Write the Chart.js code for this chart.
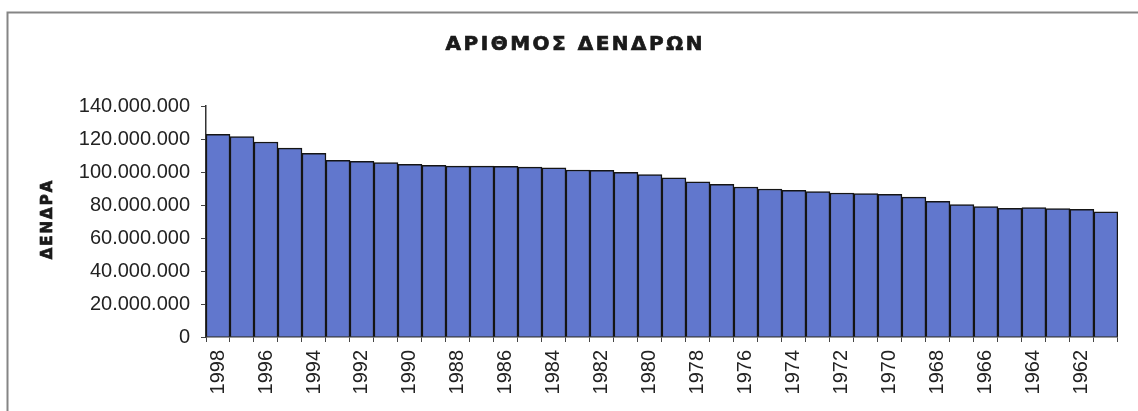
<!DOCTYPE html>
<html>
<head>
<meta charset="UTF-8">
<title>ΑΡΙΘΜΟΣ ΔΕΝΔΡΩΝ</title>
<script src="https://cdn.jsdelivr.net/npm/chart.js@4"></script>
<style>
html,body{margin:0;padding:0;background:#fff;}
#wrap{width:1138px;height:411px;position:relative;}
</style>
</head>
<body>
<div id="wrap"><canvas id="trees" width="1138" height="411"></canvas></div>
<script>
// data
const CHART_TITLE = 'ΑΡΙΘΜΟΣ ΔΕΝΔΡΩΝ';
const Y_TITLE = 'ΔΕΝΔΡΑ';
const years = ['1998','1997','1996','1995','1994','1993','1992','1991','1990','1989',
               '1988','1987','1986','1985','1984','1983','1982','1981','1980','1979',
               '1978','1977','1976','1975','1974','1973','1972','1971','1970','1969',
               '1968','1967','1966','1965','1964','1963','1962','1961'];
const trees = [122800000,121400000,118200000,114500000,111300000,107100000,106500000,105700000,104700000,104000000,
               103600000,103600000,103400000,103000000,102600000,101200000,101000000,99800000,98500000,96400000,
               94100000,92500000,90900000,89700000,88900000,88100000,87300000,86900000,86500000,84800000,
               82200000,80200000,79000000,78000000,78400000,77800000,77400000,75800000];
const yMax = 140000000;
const yStep = 20000000;

function dots(v){
    return String(Math.round(v)).replace(/\B(?=(\d{3})+(?!\d))/g,'.');
}

// letter by letter, so the wide spacing of the scan can be matched
function spaced(ctx, text, x, y, gap){
    const widths = [...text].map(ch=>ctx.measureText(ch).width);
    const total = widths.reduce((a,b)=>a+b,0) + gap*(widths.length-1);
    let cx = x - total/2;
    ctx.textAlign = 'left';
    [...text].forEach((ch,i)=>{
        ctx.fillText(ch, cx, y);
        ctx.strokeText(ch, cx, y);
        cx += widths[i] + gap;
    });
}

const extras = {
    id:'extras',
    beforeDraw(chart){
        const ctx = chart.ctx;
        ctx.save();
        ctx.strokeStyle = '#858585';
        ctx.lineWidth = 2;
        ctx.beginPath();
        ctx.moveTo(7.5, 411);
        ctx.lineTo(7.5, 12.5);
        ctx.lineTo(1138, 12.5);
        ctx.stroke();
        ctx.restore();
    },
    afterDraw(chart){
        const ctx = chart.ctx;
        ctx.save();
        ctx.fillStyle = '#1a1a1a';
        ctx.strokeStyle = '#1a1a1a';
        ctx.lineWidth = 0.7;
        ctx.textBaseline = 'middle';
        ctx.font = 'bold 20px "DejaVu Sans", sans-serif';
        spaced(ctx, CHART_TITLE, 574, 45, 2.5);
        ctx.translate(48, 220);
        ctx.rotate(-Math.PI/2);
        ctx.font = 'bold 15px "DejaVu Sans", sans-serif';
        spaced(ctx, Y_TITLE, 0, 0, 2);
        ctx.restore();
    }
};

new Chart(document.getElementById('trees').getContext('2d'),{
    type:'bar',
    data:{
        labels:years,
        datasets:[{
            data:trees,
            backgroundColor:'#6177cd',
            borderColor:'#151515',
            borderWidth:1.5,
            categoryPercentage:1,
            barPercentage:1
        }]
    },
    options:{
        responsive:false,
        animation:false,
        layout:{padding:{top:106,left:0,right:7,bottom:0}},
        plugins:{legend:{display:false},tooltip:{enabled:false},title:{display:false}},
        scales:{
            x:{
                grid:{drawOnChartArea:false,drawTicks:true,tickLength:5,tickColor:'#444',offset:true},
                border:{display:true,color:'#333',width:1.5},
                ticks:{
                    autoSkip:false,minRotation:90,maxRotation:90,padding:8,
                    color:'#222',font:{family:'"Liberation Sans", Arial',size:20},
                    callback:(v,i)=> i%2===0 ? years[i] : ''
                },
                afterFit(s){ s.height = 74; }
            },
            y:{
                min:0,max:yMax,
                grid:{drawOnChartArea:false,drawTicks:true,tickLength:5,tickColor:'#444'},
                border:{display:true,color:'#333',width:1.5},
                ticks:{
                    stepSize:yStep,padding:11,
                    color:'#222',font:{family:'"Liberation Sans", Arial',size:20},
                    callback:v=>dots(v)
                },
                afterFit(s){ s.width = 206; }
            }
        }
    },
    plugins:[extras]
});
</script>
</body>
</html>
